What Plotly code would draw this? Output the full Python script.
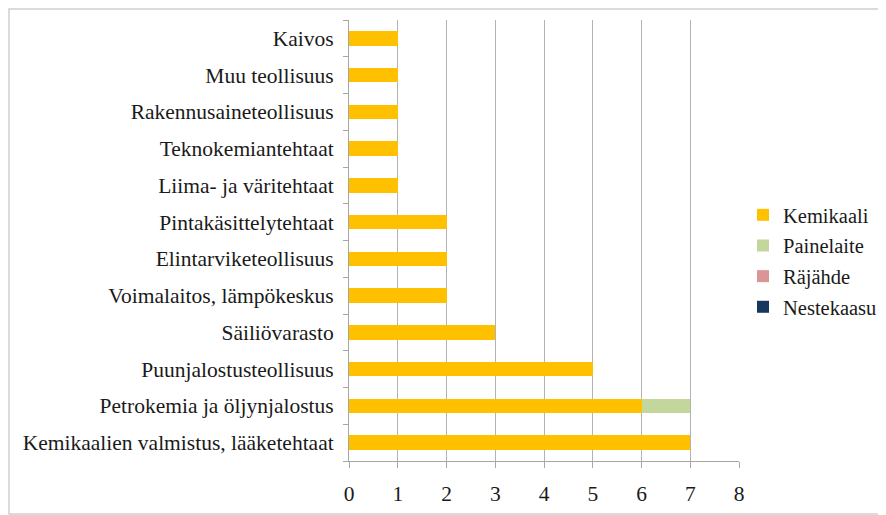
import plotly.graph_objects as go

categories = [
    "Kemikaalien valmistus, lääketehtaat",
    "Petrokemia ja öljynjalostus",
    "Puunjalostusteollisuus",
    "Säiliövarasto",
    "Voimalaitos, lämpökeskus",
    "Elintarviketeollisuus",
    "Pintakäsittelytehtaat",
    "Liima- ja väritehtaat",
    "Teknokemiantehtaat",
    "Rakennusaineteollisuus",
    "Muu teollisuus",
    "Kaivos",
]
kemikaali = [7, 6, 5, 3, 2, 2, 2, 1, 1, 1, 1, 1]
painelaite = [0, 1, 0, 0, 0, 0, 0, 0, 0, 0, 0, 0]
rajahde = [0, 0, 0, 0, 0, 0, 0, 0, 0, 0, 0, 0]
nestekaasu = [0, 0, 0, 0, 0, 0, 0, 0, 0, 0, 0, 0]
x_ticks = [0, 1, 2, 3, 4, 5, 6, 7, 8]

series = [
    ("Kemikaali", kemikaali, "#FFC000"),
    ("Painelaite", painelaite, "#C3D69B"),
    ("Räjähde", rajahde, "#D99694"),
    ("Nestekaasu", nestekaasu, "#17375E"),
]

FONT = "Liberation Serif"
FS = 21.5
LFS = 20.5

fig = go.Figure()
for i, (name, vals, color) in enumerate(series):
    fig.add_trace(go.Bar(
        y=categories, x=vals, name=name, orientation="h",
        marker=dict(color=color, line=dict(width=0)),
        legendgroup=f"g{i}",
    ))

# page body adds an 8px offset; work in reference pixel coords minus 8
OFF = 8
W, H = 886 - OFF, 515 - OFF
L = 349 - OFF
T = 20 - OFF
PR = 739 - OFF   # plot right edge
PB = 461 - OFF   # plot bottom edge
R = W - PR
B = H - PB
pw = PR - L
ph = PB - T

fig.update_layout(
    width=W, height=H,
    margin=dict(l=L, r=R, t=T, b=B, autoexpand=False),
    barmode="stack",
    bargap=0.6,
    plot_bgcolor="white",
    paper_bgcolor="white",
    font=dict(family=FONT, size=FS, color="#1a1a1a"),
    showlegend=True,
    legend=dict(
        x=(743 - OFF - L) / pw, y=(PB - (261 - OFF)) / ph,
        xanchor="left", yanchor="middle",
        traceorder="grouped",
        tracegroupgap=1,
        font=dict(family=FONT, size=LFS, color="#1a1a1a"),
        bgcolor="rgba(0,0,0,0)",
        itemwidth=30,
    ),
    xaxis=dict(
        range=[0, 8],
        tickvals=x_ticks,
        showgrid=True, gridcolor="#b3b3b3", gridwidth=1,
        showline=True, linecolor="#a6a6a6", linewidth=1,
        ticks="outside", ticklen=6, tickcolor="#a6a6a6",
        ticklabelstandoff=7,
        zeroline=False,
        fixedrange=True,
        automargin=False,
    ),
    yaxis=dict(
        categoryorder="array", categoryarray=categories,
        showgrid=False,
        showline=True, linecolor="#a6a6a6", linewidth=1,
        ticks="outside", ticklen=5, tickcolor="#a6a6a6",
        tickson="boundaries",
        ticklabelstandoff=10,
        fixedrange=True,
        automargin=False,
    ),
    shapes=[dict(
        type="rect", xref="paper", yref="paper",
        x0=(1 - L) / pw, x1=(W - 1 - L) / pw,
        y0=(PB - (H - 1)) / ph, y1=(PB - 1) / ph,
        line=dict(color="#d0d0d0", width=1.5),
        fillcolor="rgba(0,0,0,0)", layer="below",
    )],
)

fig.write_html("out.html")
